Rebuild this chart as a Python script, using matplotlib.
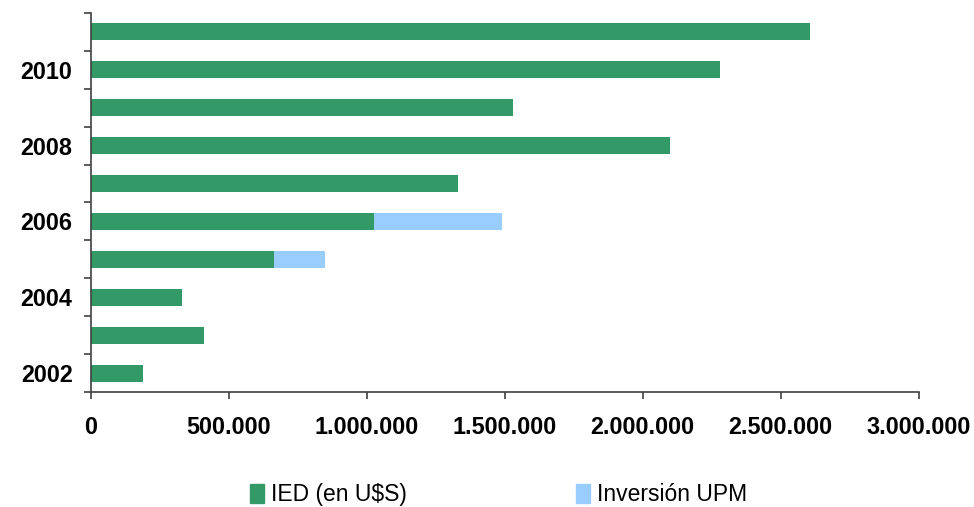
import matplotlib.pyplot as plt
import matplotlib.patches as mpatches
from matplotlib.ticker import FuncFormatter, FixedLocator

# datos
years = [2002, 2003, 2004, 2005, 2006, 2007, 2008, 2009, 2010, 2011]
ied = [190000, 411000, 331000, 664000, 1026000, 1331000, 2099000, 1530000, 2280000, 2606000]
upm = [0, 0, 0, 185000, 464000, 0, 0, 0, 0, 0]
xticks = [0, 500000, 1000000, 1500000, 2000000, 2500000, 3000000]

GREEN = "#339966"
BLUE = "#99CCFF"
AXIS = "#404040"

plt.rcParams['font.family'] = ['Liberation Sans', 'DejaVu Sans']

fig = plt.figure(figsize=(9.74, 5.07), dpi=100)
ax = fig.add_axes([0.0931, 0.2268, 0.8501, 0.7476])

pos = list(range(len(years)))
ax.barh(pos, ied, height=0.45, color=GREEN, label="IED (en U$S)")
ax.barh(pos, upm, left=ied, height=0.45, color=BLUE, label="Inversión UPM")

ax.set_ylim(-0.5, len(years) - 0.5)
ax.set_xlim(0, 3000000)

# etiquetas solo en años pares, ticks en los limites de categoria
ax.yaxis.set_major_locator(FixedLocator([p for p, y in zip(pos, years) if y % 2 == 0]))
ax.set_yticklabels([str(y) for y in years if y % 2 == 0])
ax.yaxis.set_minor_locator(FixedLocator([p - 0.5 for p in pos] + [len(years) - 0.5]))
ax.tick_params(axis='y', which='major', length=0, pad=13, labelsize=16.8)
ax.tick_params(axis='y', which='minor', length=5, width=1.2, color=AXIS)
for lbl in ax.get_yticklabels():
    lbl.set_fontweight('bold')

ax.set_xticks(xticks)
ax.xaxis.set_major_formatter(FuncFormatter(lambda v, p: f"{v:,.0f}".replace(",", ".")))
ax.tick_params(axis='x', length=5, width=1.2, color=AXIS, pad=12, labelsize=16.8)
for lbl in ax.get_xticklabels():
    lbl.set_fontweight('bold')

for s in ['top', 'right']:
    ax.spines[s].set_visible(False)
for s in ['left', 'bottom']:
    ax.spines[s].set_color(AXIS)
    ax.spines[s].set_linewidth(1.2)

handles = [mpatches.Patch(color=GREEN, label="IED (en U$S)"),
           mpatches.Patch(color=BLUE, label="Inversión UPM")]
fig.legend(handles=handles, loc='center', bbox_to_anchor=(0.512, 0.024), ncol=2,
           frameon=False, fontsize=16.5, handlelength=0.6, handleheight=0.9,
           handletextpad=0.3, columnspacing=7.4, borderaxespad=0)

fig.savefig("out.png", dpi=100)
